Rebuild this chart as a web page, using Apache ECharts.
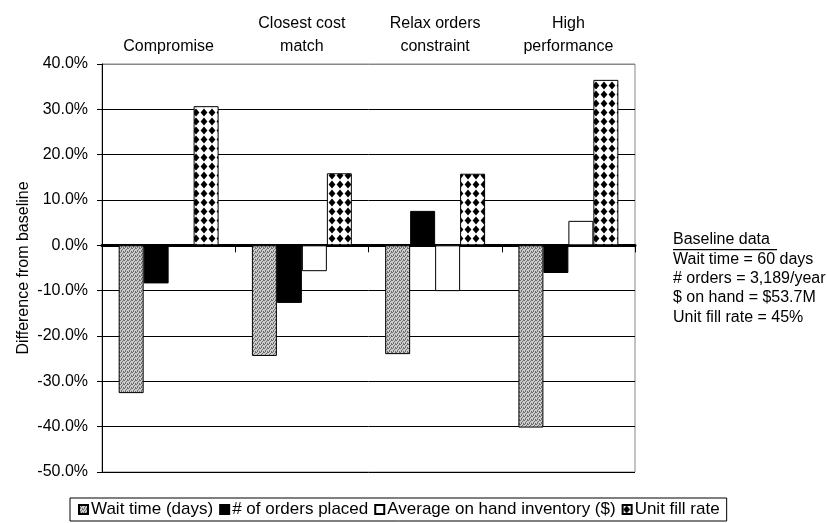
<!DOCTYPE html>
<html>
<head>
<meta charset="utf-8">
<script src="https://cdn.jsdelivr.net/npm/echarts@6/dist/echarts.min.js"></script>
<style>
html,body{margin:0;padding:0;background:#fff;}
#main{width:827px;height:523px;}
</style>
</head>
<body>
<div id="main"></div>
<script>
var categories = ['Compromise', 'Closest cost\nmatch', 'Relax orders\nconstraint', 'High\nperformance'];
var waitTime = [-32.6, -24.4, -24.0, -40.2];
var ordersPlaced = [-8.4, -12.7, 7.6, -6.1];
var avgInventory = [0, -5.7, -10.1, 5.4];
var unitFillRate = [30.7, 15.9, 15.8, 36.5];
var seriesNames = ['Wait time (days)', '# of orders placed', 'Average on hand inventory ($)', 'Unit fill rate'];
var yTicks = { min: -50, max: 40, interval: 10 };
var baselineLines = ['Baseline data', 'Wait time = 60 days', '# orders = 3,189/year', '$ on hand = $53.7M', 'Unit fill rate = 45%'];

function makeStipple() {
  var c = document.createElement('canvas');
  c.width = 4; c.height = 4;
  var g = c.getContext('2d');
  g.fillStyle = '#cccccc'; g.fillRect(0, 0, 4, 4);
  g.fillStyle = '#6e6e6e';
  [[0,0],[2,1],[1,2],[3,3],[3,0],[1,3]].forEach(function (p) { g.fillRect(p[0], p[1], 1, 1); });
  return c;
}
function makeDiamonds() {
  var c = document.createElement('canvas');
  c.width = 8; c.height = 9;
  var g = c.getContext('2d');
  g.fillStyle = '#fff'; g.fillRect(0, 0, 8, 9);
  g.fillStyle = '#000';
  g.beginPath();
  g.moveTo(4, 0.6); g.lineTo(7.4, 4.5); g.lineTo(4, 8.4); g.lineTo(0.6, 4.5); g.closePath();
  g.fill();
  return c;
}
var stipple = { image: makeStipple(), repeat: 'repeat' };
var diamonds = { image: makeDiamonds(), repeat: 'repeat' };

var FONT = 'Liberation Sans, Arial, sans-serif';
var chart = echarts.init(document.getElementById('main'), null, { renderer: 'canvas' });

function bar(name, data, color) {
  return {
    name: name, type: 'bar', data: data, xAxisIndex: 0,
    barGap: '0%', barCategoryGap: '25%',
    itemStyle: { color: color, borderColor: '#000', borderWidth: 1 },
    emphasis: { disabled: true }
  };
}

var ySplitColors = [];
for (var v = yTicks.min; v <= yTicks.max; v += yTicks.interval) ySplitColors.push(v === yTicks.max ? '#888' : '#000');

var gfx = baselineLines.map(function (t, i) {
  return { type: 'text', left: 673, top: 232 + i * 19.3, style: { text: t, fill: '#000', font: '16px ' + FONT } };
});
gfx.push({ type: 'rect', left: 673, top: 249, shape: { width: 104, height: 1.2 }, style: { fill: '#000' } });

chart.setOption({
  animation: false,
  backgroundColor: '#fff',
  textStyle: { fontFamily: FONT },
  grid: { left: 102, right: 192, top: 64, bottom: 51, show: true, borderColor: '#888', borderWidth: 1, backgroundColor: 'transparent' },
  legend: {
    data: seriesNames, left: 70, top: 498,
    icon: 'rect',
    itemWidth: 9, itemHeight: 9, itemGap: 6,
    padding: [3, 7, 3, 8],
    borderColor: '#000', borderWidth: 1,
    textStyle: { color: '#000', fontSize: 17, fontFamily: FONT, padding: [0, 0, 0, -2] },
    selectedMode: false
  },
  xAxis: [
    {
      type: 'category', data: categories, position: 'top',
      axisLine: { show: false, onZero: false }, axisTick: { show: false },
      axisLabel: { color: '#000', fontSize: 16, lineHeight: 23, margin: 6, interval: 0, fontFamily: FONT },
      splitLine: { show: false }
    },
    {
      type: 'category', data: categories, position: 'bottom',
      axisLine: { show: true, onZero: true, lineStyle: { color: '#000', width: 3 } },
      axisTick: { show: true, length: 7, interval: 0, lineStyle: { color: '#000', width: 1 } },
      axisLabel: { show: false }, splitLine: { show: false }
    }
  ],
  yAxis: {
    type: 'value', min: yTicks.min, max: yTicks.max, interval: yTicks.interval,
    name: 'Difference from baseline', nameLocation: 'middle', nameGap: 70, nameMoveOverlap: false,
    nameTextStyle: { color: '#000', fontSize: 16, fontFamily: FONT },
    axisLine: { show: true, lineStyle: { color: '#000', width: 1 } },
    axisTick: { show: true, length: 5, lineStyle: { color: '#000' } },
    axisLabel: { color: '#000', fontSize: 16, margin: 14, fontFamily: FONT, formatter: function (v) { return v.toFixed(1) + '%'; } },
    splitLine: { show: true, lineStyle: { color: ySplitColors, width: 1 } }
  },
  series: [
    bar(seriesNames[0], waitTime, stipple),
    bar(seriesNames[1], ordersPlaced, '#000'),
    bar(seriesNames[2], avgInventory, '#fff'),
    bar(seriesNames[3], unitFillRate, diamonds)
  ],
  graphic: gfx
});
</script>
</body>
</html>
